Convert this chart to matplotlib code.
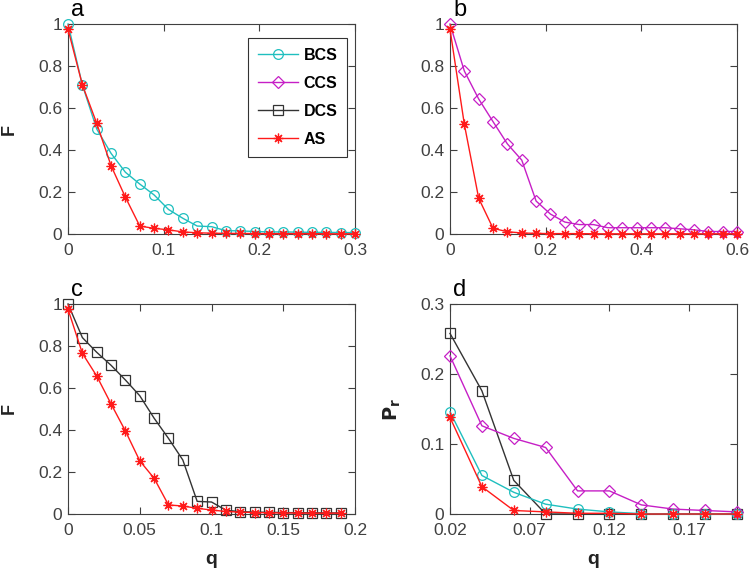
import matplotlib
matplotlib.use('Agg')
import matplotlib.pyplot as plt
from matplotlib.ticker import FuncFormatter

plt.rcParams['font.family'] = ['Liberation Sans', 'DejaVu Sans']

# panel a: BCS vs AS
q_a = [0, 0.015, 0.03, 0.045, 0.06, 0.075, 0.09, 0.105, 0.12, 0.135, 0.15,
       0.165, 0.18, 0.195, 0.21, 0.225, 0.24, 0.255, 0.27, 0.285, 0.3]
bcs_a = [1.0, 0.71, 0.50, 0.384, 0.294, 0.238, 0.186, 0.117, 0.075, 0.038, 0.035,
         0.016, 0.015, 0.012, 0.01, 0.01, 0.009, 0.008, 0.008, 0.007, 0.007]
as_a = [0.975, 0.71, 0.527, 0.325, 0.175, 0.038, 0.027, 0.02, 0.01, 0.006, 0.004,
        0.003, 0.003, 0.002, 0.002, 0.002, 0.002, 0.002, 0.001, 0.001, 0.001]

# panel b: CCS vs AS
q_b = [0, 0.03, 0.06, 0.09, 0.12, 0.15, 0.18, 0.21, 0.24, 0.27, 0.3,
       0.33, 0.36, 0.39, 0.42, 0.45, 0.48, 0.51, 0.54, 0.57, 0.6]
ccs_b = [1.0, 0.776, 0.643, 0.535, 0.429, 0.352, 0.157, 0.095, 0.057, 0.045, 0.045,
         0.03, 0.03, 0.03, 0.03, 0.03, 0.025, 0.02, 0.012, 0.012, 0.012]
as_b = [0.975, 0.522, 0.17, 0.027, 0.011, 0.005, 0.003, 0.002, 0.002, 0.002, 0.001,
        0.001, 0.001, 0.001, 0.001, 0.001, 0.001, 0.001, 0.001, 0.001, 0.001]

# panel c: DCS vs AS
q_c = [0, 0.01, 0.02, 0.03, 0.04, 0.05, 0.06, 0.07, 0.08, 0.09,
       0.1, 0.11, 0.12, 0.13, 0.14, 0.15, 0.16, 0.17, 0.18, 0.19]
dcs_c = [1.0, 0.84, 0.77, 0.708, 0.638, 0.563, 0.456, 0.36, 0.257, 0.06,
         0.057, 0.018, 0.011, 0.009, 0.008, 0.007, 0.006, 0.006, 0.005, 0.005]
as_c = [0.975, 0.765, 0.657, 0.524, 0.395, 0.253, 0.17, 0.043, 0.038, 0.027,
        0.019, 0.012, 0.009, 0.007, 0.006, 0.005, 0.005, 0.004, 0.004, 0.004]

# panel d: P_r for all four
q_d = [0.02, 0.04, 0.06, 0.08, 0.1, 0.12, 0.14, 0.16, 0.18, 0.2]
dcs_d = [0.258, 0.176, 0.048, 0.0, 0.0, 0.0, 0.0, 0.0, 0.0, 0.0]
ccs_d = [0.226, 0.126, 0.108, 0.095, 0.033, 0.033, 0.013, 0.007, 0.005, 0.003]
bcs_d = [0.146, 0.055, 0.031, 0.014, 0.007, 0.003, 0.0005, 0.0, 0.0, 0.0]
as_d = [0.138, 0.039, 0.005, 0.003, 0.001, 0.001, 0.0, 0.0, 0.0, 0.0]

# line styles (MATLAB look)
styles = {
    'BCS': dict(color='#1fbfbf', marker='o', mfc='none', markersize=7),
    'CCS': dict(color='#c61fc6', marker='D', mfc='none', markersize=6),
    'DCS': dict(color='#333333', marker='s', mfc='none', markersize=7),
    'AS': dict(color='#ff1a1a', marker=(8, 2, 0), markersize=7),
}
gray = '#404040'


def draw(ax, x, y, name):
    ax.plot(x, y, label=name, lw=1.0, mew=0.9, clip_on=False, zorder=3,
            **styles[name])


def fmt(v, pos):
    return '%g' % round(v, 4)


fig = plt.figure(figsize=(7.5, 5.75), dpi=100)
w, h = 0.3827, 0.3652
ax_a = fig.add_axes([0.0907, 0.593, w, h])
ax_b = fig.add_axes([0.6, 0.593, w, h])
ax_c = fig.add_axes([0.0907, 0.1061, w, h])
ax_d = fig.add_axes([0.6, 0.1061, w, h])

draw(ax_a, q_a, bcs_a, 'BCS')
# CCS and DCS only appear in the legend of panel a
draw(ax_a, [], [], 'CCS')
draw(ax_a, [], [], 'DCS')
draw(ax_a, q_a, as_a, 'AS')
ax_a.set_xlim(0, 0.3)
ax_a.set_xticks([0, 0.1, 0.2, 0.3])
leg = ax_a.legend(loc='upper right', bbox_to_anchor=(0.972, 0.933), frameon=True,
                  fancybox=False, edgecolor='black', handlelength=2.5,
                  handletextpad=0.35, labelspacing=0.82, borderpad=0.6,
                  borderaxespad=0, prop={'weight': 'bold', 'size': 11.5})
leg.get_frame().set_linewidth(0.8)

draw(ax_b, q_b, ccs_b, 'CCS')
draw(ax_b, q_b, as_b, 'AS')
ax_b.set_xlim(0, 0.6)
ax_b.set_xticks([0, 0.2, 0.4, 0.6])

draw(ax_c, q_c, dcs_c, 'DCS')
draw(ax_c, q_c, as_c, 'AS')
ax_c.set_xlim(0, 0.2)
ax_c.set_xticks([0, 0.05, 0.1, 0.15, 0.2])

draw(ax_d, q_d, dcs_d, 'DCS')
draw(ax_d, q_d, ccs_d, 'CCS')
draw(ax_d, q_d, bcs_d, 'BCS')
draw(ax_d, q_d, as_d, 'AS')
ax_d.set_xlim(0.02, 0.2)
ax_d.set_xticks([0.02, 0.07, 0.12, 0.17])
ax_d.set_ylim(0, 0.3)
ax_d.set_yticks([0, 0.1, 0.2, 0.3])

for ax in [ax_a, ax_b, ax_c]:
    ax.set_ylim(0, 1)
    ax.set_yticks([0, 0.2, 0.4, 0.6, 0.8, 1])

for ax, letter in zip([ax_a, ax_b, ax_c, ax_d], ['a', 'b', 'c', 'd']):
    ax.xaxis.set_major_formatter(FuncFormatter(fmt))
    ax.yaxis.set_major_formatter(FuncFormatter(fmt))
    ax.tick_params(direction='in', top=True, right=True, length=5, width=0.8,
                   colors=gray, labelsize=12.5)
    ax.tick_params(axis='x', pad=6.5)
    ax.tick_params(axis='y', pad=4)
    for sp in ax.spines.values():
        sp.set_color(gray)
        sp.set_linewidth(0.8)
    ax.text(0.012, 1.015, letter, transform=ax.transAxes, fontsize=17,
            ha='left', va='bottom', color='black')

for ax in [ax_a, ax_c]:
    ax.set_ylabel('F', fontsize=13, fontweight='bold', color='#222222')
    ax.yaxis.set_label_coords(-0.175, 0.5)
ax_d.set_ylabel(r'$\mathbf{P_r}$', fontsize=14, color='#222222')
ax_d.yaxis.set_label_coords(-0.165, 0.5)
for ax in [ax_c, ax_d]:
    ax.set_xlabel('q', fontsize=14, fontweight='bold', color='#222222')
    ax.xaxis.set_label_coords(0.5, -0.175)

fig.savefig('out.png', dpi=100)
